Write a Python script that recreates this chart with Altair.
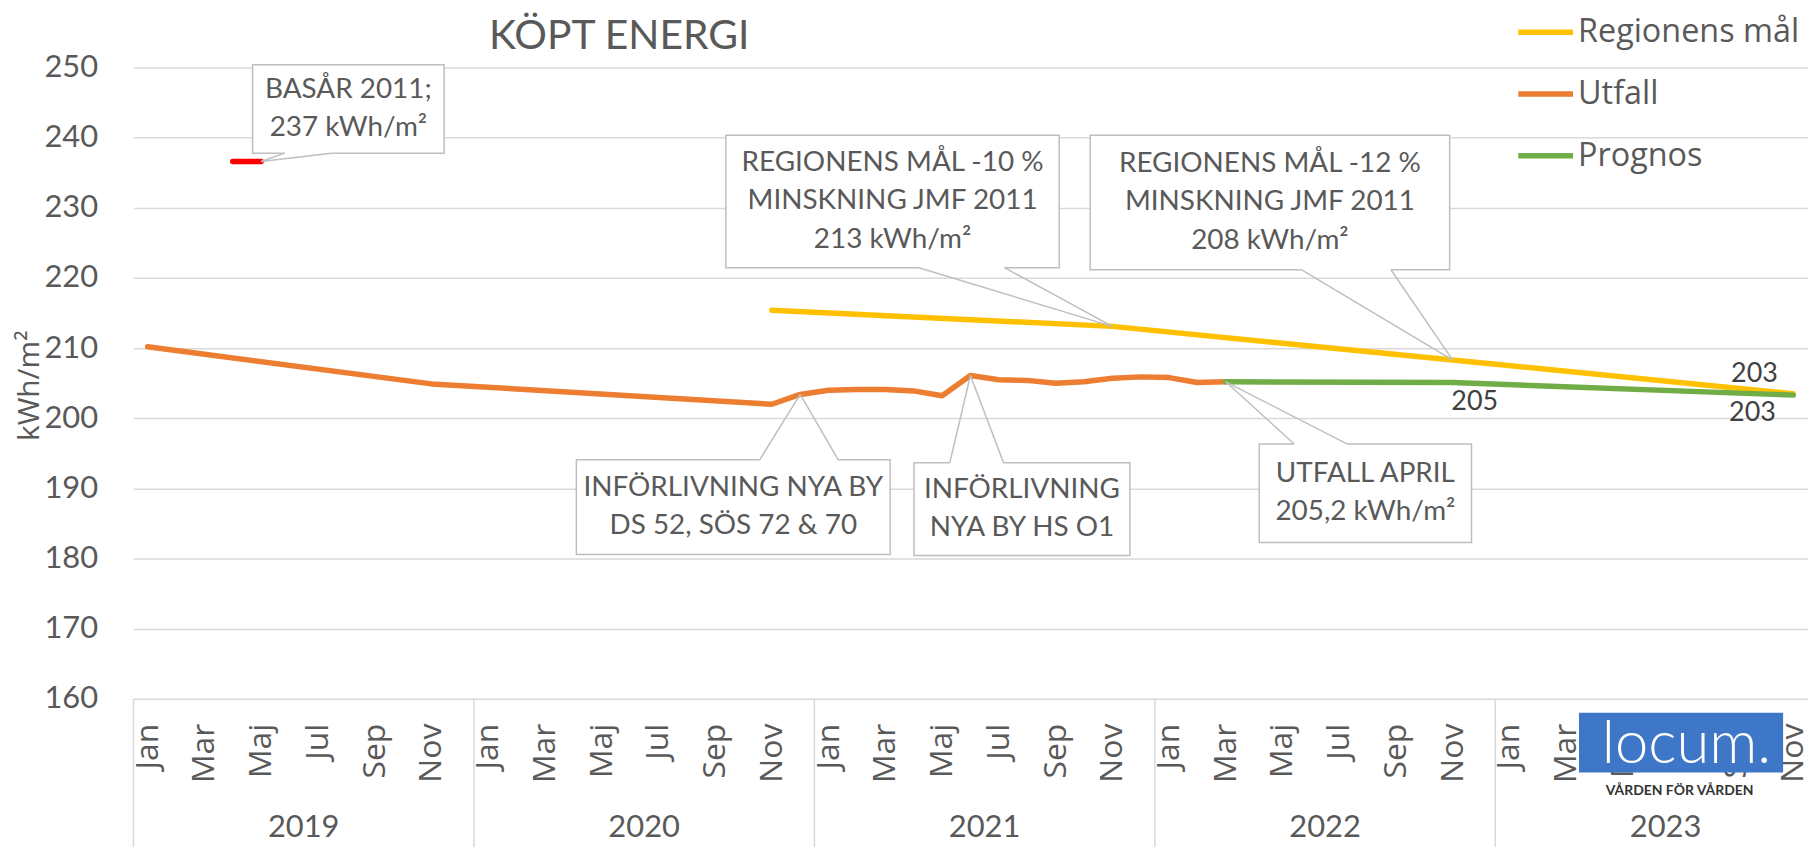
import altair as alt
import pandas as pd

# ---------------- data ----------------
month_names = ["Jan", "Feb", "Mar", "Apr", "Maj", "Jun", "Jul", "Aug", "Sep", "Okt", "Nov", "Dec"]
years = [2019, 2020, 2021, 2022, 2023]

utfall_months = ["2019-01", "2019-11", "2020-11", "2020-12", "2021-01", "2021-02", "2021-03",
                 "2021-04", "2021-05", "2021-06", "2021-07", "2021-08", "2021-09", "2021-10",
                 "2021-11", "2021-12", "2022-01", "2022-02", "2022-03"]
utfall_vals = [210.2, 204.9, 202.0, 203.4, 204.0, 204.1, 204.1,
               203.9, 203.2, 206.1, 205.5, 205.4, 205.0, 205.2,
               205.7, 205.9, 205.8, 205.1, 205.2]

maal_months = ["2020-11", "2021-11", "2022-11", "2023-11"]
maal_vals = [215.4, 213.1, 208.3, 203.5]

prognos_months = ["2022-03", "2022-11", "2023-11"]
prognos_vals = [205.2, 205.1, 203.3]

basar_months = ["2019-04", "2019-05"]
basar_vals = [236.6, 236.6]

series_names = ["Regionens mål", "Utfall", "Prognos"]
series_colors = ["#FFC000", "#ED7D31", "#70AD47"]


def midx(s):
    y, m = s.split("-")
    return (int(y) - years[0]) * 12 + int(m) - 1


rows = []
for name, ms, vs in [("Regionens mål", maal_months, maal_vals),
                     ("Utfall", utfall_months, utfall_vals),
                     ("Prognos", prognos_months, prognos_vals)]:
    for m, v in zip(ms, vs):
        rows.append({"series": name, "i": midx(m), "v": v})
df_lines = pd.DataFrame(rows)
df_basar = pd.DataFrame({"i": [midx(m) for m in basar_months], "v": basar_vals})

# data labels (text as shown)
lab_prognos_nov22 = pd.DataFrame({"i": [midx("2022-11")], "v": [prognos_vals[1]], "t": ["205"]})
lab_maal_end = pd.DataFrame({"i": [midx("2023-11")], "v": [maal_vals[-1]], "t": ["203"]})
lab_prognos_end = pd.DataFrame({"i": [midx("2023-11")], "v": [prognos_vals[-1]], "t": ["203"]})

# category axis
df_months = pd.DataFrame({
    "i": [yi * 12 + k for yi in range(len(years)) for k in range(0, 12, 2)],
    "lbl": [month_names[k] for _ in years for k in range(0, 12, 2)],
})
df_years = pd.DataFrame({"i": [yi * 12 + 5.5 for yi in range(len(years))],
                         "lbl": [str(y) for y in years]})
df_div = pd.DataFrame({"i": [yi * 12 - 0.5 for yi in range(len(years))]})

# callouts: box in (month index, kWh/m2) units, pointer base on an edge, tip on a data point
lookup = {}
for name, ms, vs in [("Regionens mål", maal_months, maal_vals),
                     ("Utfall", utfall_months, utfall_vals),
                     ("Prognos", prognos_months, prognos_vals),
                     ("Basår", basar_months, basar_vals)]:
    for m, v in zip(ms, vs):
        lookup[(name, m)] = v

callouts = [
    {"lines": ["BASÅR 2011;", "237 kWh/m²"], "box": (3.7, 10.45, 250.4, 237.8),
     "edge": "bottom", "base": (4.83, 6.48), "tip": ("Basår", "2019-05")},
    {"lines": ["REGIONENS MÅL -10 %", "MINSKNING JMF 2011", "213 kWh/m²"], "box": (20.38, 32.13, 240.35, 221.47),
     "edge": "bottom", "base": (27.18, 30.2), "tip": ("Regionens mål", "2021-11")},
    {"lines": ["REGIONENS MÅL -12 %", "MINSKNING JMF 2011", "208 kWh/m²"], "box": (33.22, 45.89, 240.35, 221.18),
     "edge": "bottom", "base": (40.66, 43.82), "tip": ("Regionens mål", "2022-11")},
    {"lines": ["INFÖRLIVNING NYA BY", "DS 52, SÖS 72 & 70"], "box": (15.11, 26.17, 194.07, 180.58),
     "edge": "top", "base": (21.57, 24.34), "tip": ("Utfall", "2020-12")},
    {"lines": ["INFÖRLIVNING", "NYA BY HS O1"], "box": (27.01, 34.62, 193.64, 180.44),
     "edge": "top", "base": (28.27, 30.17), "tip": ("Utfall", "2021-06")},
    {"lines": ["UTFALL APRIL", "205,2 kWh/m²"], "box": (39.18, 46.66, 196.34, 182.28),
     "edge": "top", "base": (40.41, 42.27), "tip": ("Utfall", "2022-03")},
]
LINE_STEP = 5.5

box_rows, gap_rows, ptr_rows, txt_rows = [], [], [], []
for c in callouts:
    x0, x1, top, bot = c["box"]
    box_rows.append({"x0": x0, "x1": x1, "top": top, "bot": bot})
    ey = bot if c["edge"] == "bottom" else top
    bl, br = c["base"]
    gap_rows.append({"xa": bl, "xb": br, "ya": ey, "yb": ey})
    ti = midx(c["tip"][1])
    tv = lookup[c["tip"]]
    for b in (bl, br):
        ptr_rows.append({"xa": b, "ya": ey, "xb": ti, "yb": tv})
    cx = (x0 + x1) / 2
    cy = (top + bot) / 2
    n = len(c["lines"])
    for k, line in enumerate(c["lines"]):
        txt_rows.append({"x": cx, "y": cy - (k - (n - 1) / 2) * LINE_STEP, "t": line})
df_box = pd.DataFrame(box_rows)
df_gap = pd.DataFrame(gap_rows)
df_ptr = pd.DataFrame(ptr_rows)
df_txt = pd.DataFrame(txt_rows)

# ---------------- chart ----------------
GRAY = "#595959"
xs = alt.Scale(domain=[-0.5, 58.52], nice=False, zero=False)
ys = alt.Scale(domain=[160, 250], nice=False, zero=False)

yaxis = alt.Axis(values=list(range(160, 251, 10)), title="kWh/m²", grid=True, gridColor="#D9D9D9",
                 gridWidth=1.5, domain=False, ticks=False, labelFont="Lato", labelFontSize=31,
                 labelColor=GRAY, labelPadding=36, titleFont="Open Sans", titleFontSize=30,
                 titleColor=GRAY, titleFontWeight="normal", titleAngle=270, titleX=-104, titleY=319,
                 titleAlign="center", titleBaseline="middle")


def X(field):
    return alt.X(field, scale=xs, axis=None)


def Y(field):
    return alt.Y(field, scale=ys, axis=yaxis)


lines = alt.Chart(df_lines).mark_line(strokeWidth=5.5, strokeCap="round", strokeJoin="round").encode(
    x=X("i:Q"),
    y=Y("v:Q"),
    color=alt.Color("series:N", scale=alt.Scale(domain=series_names, range=series_colors),
                    legend=alt.Legend(orient="none", legendX=1388, legendY=-66, title=None,
                                      symbolType="stroke", symbolSize=3025, symbolStrokeWidth=5.5,
                                      labelFont="Open Sans", labelFontSize=32.5, labelColor=GRAY,
                                      rowPadding=15, labelOffset=2, padding=0, labelLimit=400)),
)

basar = alt.Chart(df_basar).mark_line(strokeWidth=5.5, strokeCap="round", color="#FF0000").encode(
    x=X("i:Q"), y=Y("v:Q"))


def datalabel(df, dx, dy):
    return alt.Chart(df).mark_text(font="Lato", fontSize=27, color="#404040", dx=dx, dy=dy,
                                   align="center", baseline="middle").encode(
        x=X("i:Q"), y=Y("v:Q"), text="t:N")


dl1 = datalabel(lab_prognos_nov22, 22, 20)
dl2 = datalabel(lab_maal_end, -39, -20)
dl3 = datalabel(lab_prognos_end, -41, 18)

month_txt = alt.Chart(df_months).mark_text(angle=270, align="right", baseline="middle",
                                           font="Open Sans", fontSize=32, color=GRAY).encode(
    x=X("i:Q"), y=alt.value(659), text="lbl:N")
year_txt = alt.Chart(df_years).mark_text(align="center", baseline="middle", font="Lato",
                                         fontSize=31, color=GRAY).encode(
    x=X("i:Q"), y=alt.value(764), text="lbl:N")
dividers = alt.Chart(df_div).mark_rule(color="#D9D9D9", strokeWidth=1.5).encode(
    x=X("i:Q"), y=alt.value(634), y2=alt.value(800))

boxes = alt.Chart(df_box).mark_rect(fill="white", stroke="#BFBFBF", strokeWidth=1.5).encode(
    x=X("x0:Q"), x2="x1:Q", y=Y("top:Q"), y2="bot:Q")
gaps = alt.Chart(df_gap).mark_rule(color="white", strokeWidth=3).encode(
    x=X("xa:Q"), x2="xb:Q", y=Y("ya:Q"), y2="yb:Q")
pointers = alt.Chart(df_ptr).mark_rule(color="#BFBFBF", strokeWidth=1.5).encode(
    x=X("xa:Q"), x2="xb:Q", y=Y("ya:Q"), y2="yb:Q")
box_txt = alt.Chart(df_txt).mark_text(font="Lato", fontSize=28, color=GRAY, align="center",
                                      baseline="middle").encode(
    x=X("x:Q"), y=Y("y:Q"), text="t:N")

title = alt.Chart(pd.DataFrame({"t": ["KÖPT ENERGI"]})).mark_text(
    font="Lato", fontSize=41, color=GRAY, align="center", baseline="alphabetic").encode(
    x=alt.value(488), y=alt.value(-19), text="t:N")

logo_box = alt.Chart(pd.DataFrame({"k": [1]})).mark_rect(fill="#3E77C7").encode(
    x=alt.value(1452), x2=alt.value(1657), y=alt.value(648), y2=alt.value(708))
logo_txt = alt.Chart(pd.DataFrame({"t": ["locum."]})).mark_text(
    font="Lato", fontWeight=300, fontSize=60, color="white", align="center", baseline="alphabetic").encode(
    x=alt.value(1560), y=alt.value(698), text="t:N")
logo_sub = alt.Chart(pd.DataFrame({"t": ["VÅRDEN FÖR VÅRDEN"]})).mark_text(
    font="Lato", fontWeight="bold", fontSize=14, color="#333333", align="center", baseline="middle").encode(
    x=alt.value(1553), y=alt.value(727), text="t:N")

chart = alt.layer(
    dividers, month_txt, year_txt, lines, basar, boxes, gaps, pointers, box_txt,
    dl1, dl2, dl3, title, logo_box, logo_txt, logo_sub,
).properties(
    width=1682, height=634,
    padding={"left": 126, "top": 58, "right": 0, "bottom": 147},
    autosize=alt.AutoSizeParams(type="none"),
    background="white",
).configure_view(stroke=None)

chart.save("out.html", embed_options={"renderer": "svg", "actions": False})
